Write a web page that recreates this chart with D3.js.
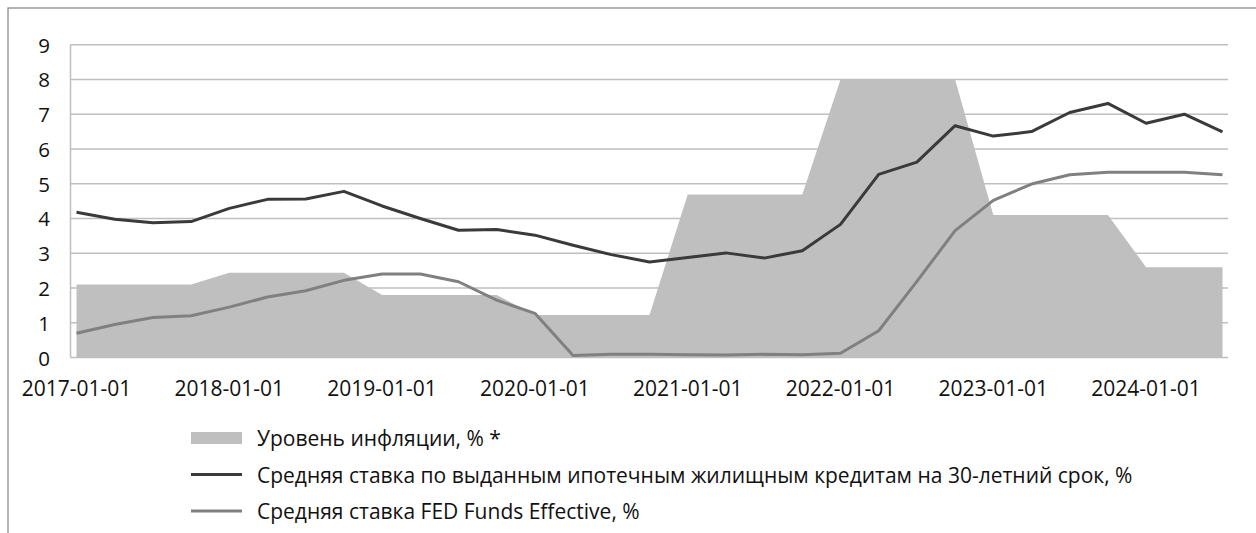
<!DOCTYPE html>
<html>
<head>
<meta charset="utf-8">
<script src="https://cdn.jsdelivr.net/npm/d3@7"></script>
<style>
	body { margin: 0; background: white; }
	svg { display: block; font-family: "Open Sans", sans-serif; }
</style>
</head>
<body>
<svg id="chart" width="1256" height="533"></svg>
<script>

// quarterly observations, 2017Q1 .. 2024Q3
var quarters = ["2017-01-01", "2017-04-01", "2017-07-01", "2017-10-01",
	"2018-01-01", "2018-04-01", "2018-07-01", "2018-10-01",
	"2019-01-01", "2019-04-01", "2019-07-01", "2019-10-01",
	"2020-01-01", "2020-04-01", "2020-07-01", "2020-10-01",
	"2021-01-01", "2021-04-01", "2021-07-01", "2021-10-01",
	"2022-01-01", "2022-04-01", "2022-07-01", "2022-10-01",
	"2023-01-01", "2023-04-01", "2023-07-01", "2023-10-01",
	"2024-01-01", "2024-04-01", "2024-07-01"];

var inflation = [2.1, 2.1, 2.1, 2.1, 2.44, 2.44, 2.44, 2.44, 1.8, 1.8, 1.8, 1.8,
	1.22, 1.22, 1.22, 1.22, 4.69, 4.69, 4.69, 4.69, 8.0, 8.0, 8.0, 8.0,
	4.1, 4.1, 4.1, 4.1, 2.6, 2.6, 2.6];

var mortgage = [4.18, 3.98, 3.88, 3.91, 4.29, 4.55, 4.56, 4.78, 4.36, 4.0, 3.66, 3.68,
	3.52, 3.23, 2.96, 2.75, 2.88, 3.01, 2.86, 3.07, 3.83, 5.27, 5.62, 6.67,
	6.37, 6.5, 7.05, 7.31, 6.74, 7.0, 6.49];

var fedFunds = [0.7, 0.95, 1.15, 1.2, 1.45, 1.74, 1.92, 2.22, 2.4, 2.4, 2.18, 1.65,
	1.27, 0.06, 0.09, 0.09, 0.08, 0.07, 0.09, 0.08, 0.12, 0.77, 2.19, 3.65,
	4.52, 4.99, 5.26, 5.33, 5.33, 5.33, 5.26];

var yTicks = [0, 1, 2, 3, 4, 5, 6, 7, 8, 9];

var legendLabels = ["Уровень инфляции, % *",
	"Средняя ставка по выданным ипотечным жилищным кредитам на 30-летний срок, %",
	"Средняя ставка FED Funds Effective, %"];

var colors = {
	area: "#bfbfbf",
	mortgage: "#3a3a3a",
	fed: "#808080",
	grid: "#bfbfbf",
	frame: "#8c8c8c",
	text: "#111111"
};

function renderChart(element) {

	var svg = d3.select(element);

	var plot = {
		left: 70.5,
		right: 1228,
		top: 44.7,
		bottom: 357.5
	};

	// outer frame of the chart (cut by the picture on the right and bottom)
	svg.append("rect")
		.attr("x", 8)
		.attr("y", 8)
		.attr("width", 1300)
		.attr("height", 600)
		.attr("fill", "white")
		.attr("stroke", colors.frame)
		.attr("stroke-width", 1.3);

	var xScale = d3.scaleLinear()
		.domain([0, quarters.length - 1])
		.range([76.5, 1222.5]);

	var yScale = d3.scaleLinear()
		.domain([0, 9])
		.range([plot.bottom, plot.top]);

	drawGrid(svg, plot, yScale);
	drawSeries(svg, xScale, yScale);
	drawAxes(svg, plot, xScale, yScale);
	drawLegend(svg);

}

function drawGrid(svg, plot, yScale) {

	svg.append("g")
		.attr("class", "grid")
		.selectAll("line")
		.data(yTicks)
		.enter()
		.append("line")
		.attr("x1", plot.left)
		.attr("x2", plot.right)
		.attr("y1", d => yScale(d))
		.attr("y2", d => yScale(d))
		.attr("stroke", colors.grid)
		.attr("stroke-width", 1.5);

}

function drawSeries(svg, xScale, yScale) {

	var area = d3.area()
		.x((d, i) => xScale(i))
		.y0(yScale(0))
		.y1(d => yScale(d));

	svg.append("path")
		.datum(inflation)
		.attr("d", area)
		.attr("fill", colors.area);

	var line = d3.line()
		.x((d, i) => xScale(i))
		.y(d => yScale(d));

	svg.append("path")
		.datum(fedFunds)
		.attr("d", line)
		.attr("fill", "none")
		.attr("stroke", colors.fed)
		.attr("stroke-width", 3)
		.attr("stroke-linejoin", "round");

	svg.append("path")
		.datum(mortgage)
		.attr("d", line)
		.attr("fill", "none")
		.attr("stroke", colors.mortgage)
		.attr("stroke-width", 3)
		.attr("stroke-linejoin", "round");

}

function drawAxes(svg, plot, xScale, yScale) {

	// vertical axis line
	svg.append("line")
		.attr("x1", plot.left)
		.attr("x2", plot.left)
		.attr("y1", plot.top)
		.attr("y2", plot.bottom)
		.attr("stroke", colors.grid)
		.attr("stroke-width", 1.5);

	svg.append("g")
		.selectAll("text")
		.data(yTicks)
		.enter()
		.append("text")
		.attr("x", 50)
		.attr("y", d => yScale(d))
		.attr("text-anchor", "end")
		.attr("dominant-baseline", "central")
		.attr("font-size", 20.5)
		.attr("fill", colors.text)
		.text(d => d);

	// a label every fourth quarter
	var labelled = quarters.map((q, i) => i).filter(i => i % 4 == 0);

	svg.append("g")
		.selectAll("text")
		.data(labelled)
		.enter()
		.append("text")
		.attr("x", i => xScale(i))
		.attr("y", 396)
		.attr("text-anchor", "middle")
		.attr("font-size", 21)
		.attr("fill", colors.text)
		.text(i => quarters[i]);

}

function drawLegend(svg) {

	var rows = [438, 474.5, 511];

	var legend = svg.append("g").attr("class", "legend");

	legend.append("rect")
		.attr("x", 191)
		.attr("y", 432)
		.attr("width", 51)
		.attr("height", 12)
		.attr("fill", colors.area);

	legend.append("line")
		.attr("x1", 191).attr("x2", 242)
		.attr("y1", rows[1]).attr("y2", rows[1])
		.attr("stroke", colors.mortgage)
		.attr("stroke-width", 3);

	legend.append("line")
		.attr("x1", 191).attr("x2", 242)
		.attr("y1", rows[2]).attr("y2", rows[2])
		.attr("stroke", colors.fed)
		.attr("stroke-width", 3);

	legend.selectAll("text")
		.data(legendLabels)
		.enter()
		.append("text")
		.attr("x", 257)
		.attr("y", (d, i) => rows[i])
		.attr("dominant-baseline", "central")
		.attr("font-size", 21)
		.attr("fill", colors.text)
		.text(d => d);

}

renderChart("#chart");

</script>
</body>
</html>
